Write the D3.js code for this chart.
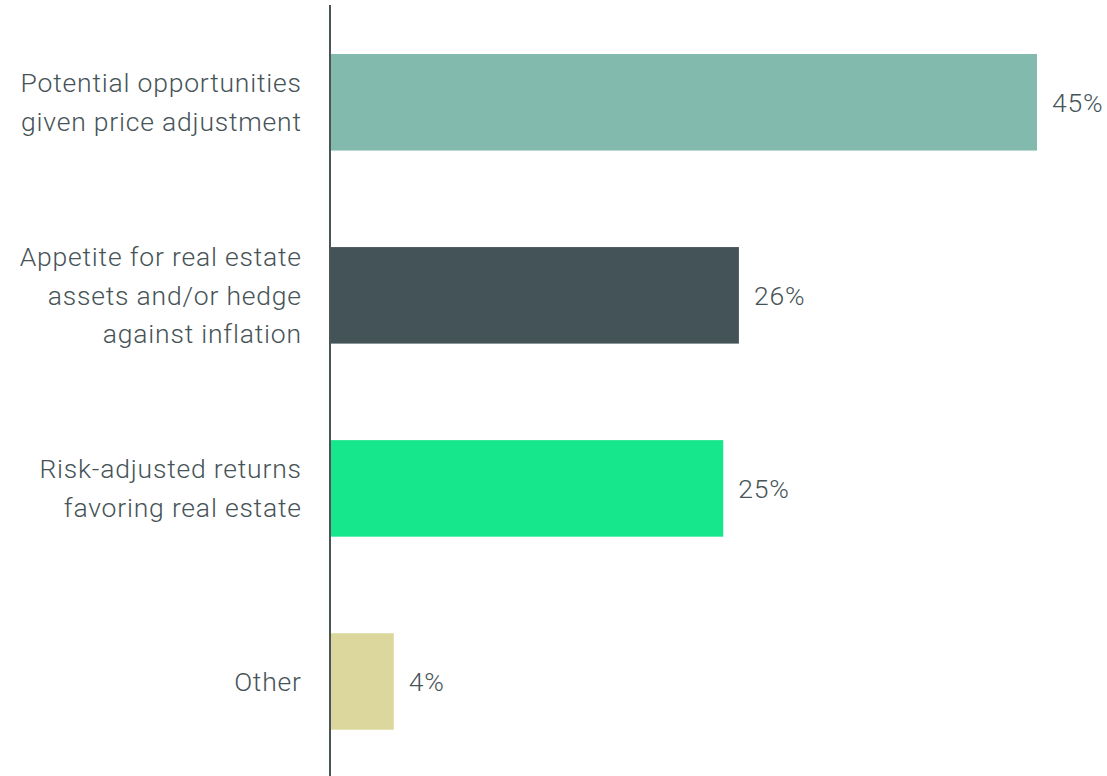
<!DOCTYPE html>
<html>
<head>
<meta charset="utf-8">
<script src="https://cdn.jsdelivr.net/npm/d3@7"></script>
<style>
  html, body { margin: 0; padding: 0; background: #ffffff; }
  svg { display: block; }
</style>
</head>
<body>
<svg id="chart" width="1107" height="776"></svg>
<script>
// Survey reasons, one bar each
const categories = [
  ["Potential opportunities", "given price adjustment"],
  ["Appetite for real estate", "assets and/or hedge", "against inflation"],
  ["Risk-adjusted returns", "favoring real estate"],
  ["Other"]
];
const values = [45, 26, 25, 4];
const valueLabels = ["45%", "26%", "25%", "4%"];
const barColors = ["#82bbad", "#445357", "#16e68c", "#dcd89d"];

const textColor = "#465357";
const fontFamily = "Roboto, 'Noto Sans', sans-serif";
const fontSize = 26.5;
const fontWeight = 300;
const tracking = 0.8;

const svg = d3.select("#chart");
const axisX = 330;

const keys = categories.map((c, i) => i);
const y = d3.scaleBand()
  .domain(keys)
  .range([5.75, 778])
  .paddingInner(0.5)
  .paddingOuter(0.25);

const x = d3.scaleLinear()
  .domain([0, 45])
  .range([axisX + 1, 1037]);

// bars
svg.append("g")
  .selectAll("rect")
  .data(values)
  .join("rect")
  .attr("x", x(0))
  .attr("y", (d, i) => y(i))
  .attr("width", d => x(d) - x(0))
  .attr("height", y.bandwidth())
  .attr("fill", (d, i) => barColors[i]);

// value labels
svg.append("g")
  .selectAll("text")
  .data(values)
  .join("text")
  .attr("x", d => x(d) + 15)
  .attr("y", (d, i) => y(i) + y.bandwidth() / 2)
  .attr("dy", "0.35em")
  .attr("fill", textColor)
  .attr("font-family", fontFamily)
  .attr("font-size", fontSize)
  .attr("font-weight", fontWeight)
  .attr("letter-spacing", tracking)
  .text((d, i) => valueLabels[i]);

// category labels, multi-line, right aligned
const lineH = 38.5;
const catG = svg.append("g");
categories.forEach((lines, i) => {
  const cy = y(i) + y.bandwidth() / 2;
  const t = catG.append("text")
    .attr("text-anchor", "end")
    .attr("fill", textColor)
    .attr("font-family", fontFamily)
    .attr("font-size", fontSize)
    .attr("font-weight", fontWeight)
    .attr("letter-spacing", tracking);
  lines.forEach((ln, j) => {
    t.append("tspan")
      .attr("x", 301 + tracking)
      .attr("y", cy + (j - (lines.length - 1) / 2) * lineH)
      .attr("dy", "0.35em")
      .text(ln);
  });
});

// vertical category axis line
svg.append("line")
  .attr("x1", axisX).attr("x2", axisX)
  .attr("y1", 5).attr("y2", 776)
  .attr("stroke", "#4a5558")
  .attr("stroke-width", 2);
</script>
</body>
</html>
